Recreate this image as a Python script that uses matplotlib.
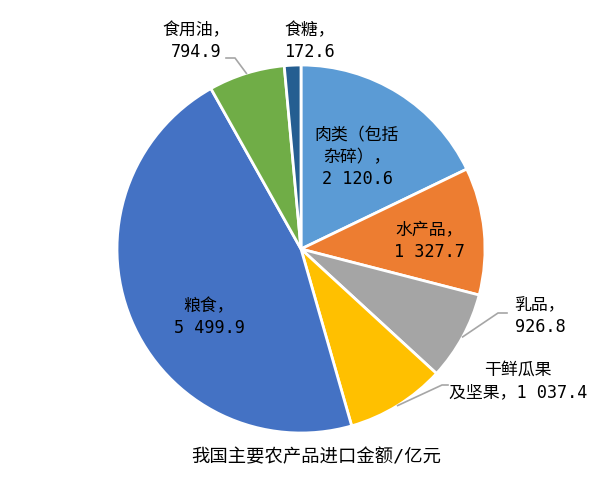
import matplotlib
matplotlib.use("Agg")
import matplotlib.pyplot as plt
import numpy as np

# ---- data ----
categories = ["肉类（包括\n杂碎）", "水产品", "乳品", "干鲜瓜果\n及坚果", "粮食", "食用油", "食糖"]
values = [2120.6, 1327.7, 926.8, 1037.4, 5499.9, 794.9, 172.6]
title = "我国主要农产品进口金额/亿元"

# ---- style / layout ----
colors = ["#5B9BD5", "#ED7D31", "#A5A5A5", "#FFC000", "#4472C4", "#70AD47", "#255E91"]
W, H = 603, 478
center_px = (301, 249)
radius_px = 184
# label centres in pixel coords (x, y from top), and leader line config
label_pos = [(357, 157), (429, 241), (540, 316), (518, 381), (209, 317), (196, 41), (310, 41)]
label_sep = ["，\n", "，\n", "，\n", "，", "，\n", "，\n", "，\n"]
# leader: (elbow_px, end_px) or None
leaders = [None, None, ((498, 313), (507, 313)), ((442, 385), (448, 385)), None,
           ((235, 58), (226, 58)), None]

fam = ["DejaVu Sans Mono", "Noto Sans CJK SC"]
fs = 12.2

fig = plt.figure(figsize=(W / 100, H / 100), dpi=100)
ax = fig.add_axes([0, 0, 1, 1])

def py(y):
    return H - y

cx, cy = center_px[0], py(center_px[1])
wedges, _ = ax.pie(values, colors=colors, startangle=90, counterclock=False,
                   center=(cx, cy), radius=radius_px,
                   wedgeprops=dict(edgecolor="white", linewidth=2))

def fmt(v):
    return f"{v:,.1f}".replace(",", " ")

for i, (w, cat, v) in enumerate(zip(wedges, categories, values)):
    lx, ly = label_pos[i]
    txt = cat + label_sep[i] + fmt(v)
    ax.text(lx, py(ly), txt, ha="center", va="center", multialignment="center",
            fontsize=fs, family=fam, color="black", linespacing=1.28)
    if leaders[i] is not None:
        mid = np.deg2rad((w.theta1 + w.theta2) / 2)
        sx = cx + radius_px * np.cos(mid)
        sy = cy + radius_px * np.sin(mid)
        (ex, ey), (fx, fy) = leaders[i]
        ax.plot([sx, ex, fx], [sy, py(ey), py(fy)], color="#A6A6A6", lw=1.2,
                solid_joinstyle="miter")

ax.text(316, py(457), title, ha="center", va="center", fontsize=13.2,
        family=fam, color="black")

ax.set_xlim(0, W)
ax.set_ylim(0, H)
ax.set_aspect("equal", adjustable="box")
ax.axis("off")
fig.savefig("out.png", dpi=100, facecolor="white")
